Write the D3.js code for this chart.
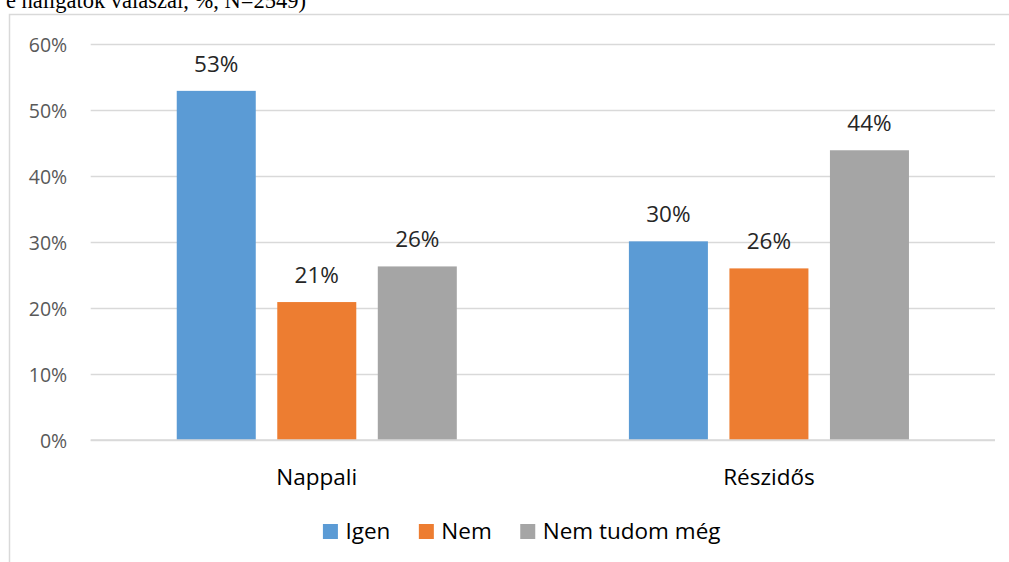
<!DOCTYPE html>
<html>
<head>
<meta charset="utf-8">
<script src="https://cdn.jsdelivr.net/npm/d3@7"></script>
<style>
  html, body { margin: 0; padding: 0; background: #fff; }
  svg { display: block; }
</style>
</head>
<body>
<svg id="chart" width="1009" height="562"></svg>
<script>
// ---- data ----
const categories = ["Nappali", "Részidős"];
const seriesNames = ["Igen", "Nem", "Nem tudom még"];
const seriesColors = ["#5B9BD5", "#ED7D31", "#A5A5A5"];
const igenValues = [52.9, 30.1];
const nemValues = [20.9, 26.0];
const nemTudomValues = [26.3, 43.9];
const valueLabels = [["53%", "30%"], ["21%", "26%"], ["26%", "44%"]];
const yTicks = [0, 10, 20, 30, 40, 50, 60];
const titleText = "(A képzési forma szerinti bontásban, e hallgatók válaszai, %, N=2549)";

const seriesValues = [igenValues, nemValues, nemTudomValues];

// ---- layout ----
const svg = d3.select("#chart");
const plot = { left: 90.7, right: 995, top: 44, bottom: 440 };
const uiFont = "'Open Sans', Lato, sans-serif";

// title (cut off at top, as in the reference)
svg.append("text")
  .attr("x", 306).attr("y", 7.5)
  .attr("text-anchor", "end")
  .attr("font-family", "'Liberation Serif', 'Times New Roman', serif")
  .attr("font-size", 22.5)
  .attr("fill", "#000")
  .text(titleText);

// chart border
svg.append("rect")
  .attr("x", 9.5).attr("y", 14.5)
  .attr("width", 1040).attr("height", 600)
  .attr("fill", "none")
  .attr("stroke", "#d9d9d9")
  .attr("stroke-width", 1.5);

const y = d3.scaleLinear().domain([0, 60]).range([plot.bottom, plot.top]);
const x0 = d3.scaleBand().domain(categories).range([plot.left, plot.right]).paddingInner(0).paddingOuter(0);
const x1 = d3.scaleBand().domain(seriesNames).range([0, x0.bandwidth()]).paddingInner(0.214).paddingOuter(0.856);

// gridlines + y tick labels
const yAxis = d3.axisLeft(y).tickValues(yTicks)
  .tickSize(-(plot.right - plot.left))
  .tickFormat(d => d + "%")
  .tickPadding(23.5);
const gy = svg.append("g").attr("transform", `translate(${plot.left},0)`).call(yAxis);
gy.select(".domain").remove();
gy.selectAll(".tick line").attr("stroke", "#d9d9d9").attr("stroke-width", 1.5);
gy.selectAll(".tick text")
  .attr("font-family", uiFont).attr("font-size", 19.5)
  .attr("fill", "#595959").attr("dy", "0.36em");

// bars + value labels
const groups = svg.append("g").selectAll("g")
  .data(seriesNames)
  .join("g")
  .attr("fill", (d, i) => seriesColors[i]);

groups.each(function(s, si) {
  const g = d3.select(this);
  categories.forEach((c, ci) => {
    const v = seriesValues[si][ci];
    g.append("rect")
      .attr("x", x0(c) + x1(s))
      .attr("y", y(v))
      .attr("width", x1.bandwidth())
      .attr("height", y(0) - y(v));
    svg.append("text")
      .attr("x", x0(c) + x1(s) + x1.bandwidth() / 2)
      .attr("y", y(v) - 19)
      .attr("text-anchor", "middle")
      .attr("font-family", uiFont).attr("font-size", 22.5)
      .attr("fill", "#262626")
      .text(valueLabels[si][ci]);
  });
});

// 0% line over bars
svg.append("line")
  .attr("x1", plot.left).attr("x2", plot.right)
  .attr("y1", y(0)).attr("y2", y(0))
  .attr("stroke", "#d9d9d9").attr("stroke-width", 1.5);

// category labels
const xAxis = d3.axisBottom(x0).tickSize(0).tickPadding(0);
const gx = svg.append("g").attr("transform", `translate(0,${plot.bottom})`).call(xAxis);
gx.select(".domain").remove();
gx.selectAll(".tick text")
  .attr("font-family", uiFont).attr("font-size", 22.5)
  .attr("fill", "#000").attr("dy", 0).attr("y", 45);

// legend
const legend = svg.append("g");
const items = [];
seriesNames.forEach((s, i) => {
  const it = legend.append("g");
  it.append("rect").attr("x", 0).attr("y", -15).attr("width", 15).attr("height", 15).attr("fill", seriesColors[i]);
  const t = it.append("text").attr("x", 22.5).attr("y", 0)
    .attr("font-family", uiFont).attr("font-size", 22.5).attr("fill", "#000").text(s);
  const w = 22.5 + t.node().getComputedTextLength();
  items.push({ it, w });
});
const gap = 28.5;
const total = d3.sum(items, d => d.w) + gap * (items.length - 1);
let lx = 521.7 - total / 2;
items.forEach(d => {
  d.it.attr("transform", `translate(${lx},539)`);
  lx += d.w + gap;
});
</script>
</body>
</html>
